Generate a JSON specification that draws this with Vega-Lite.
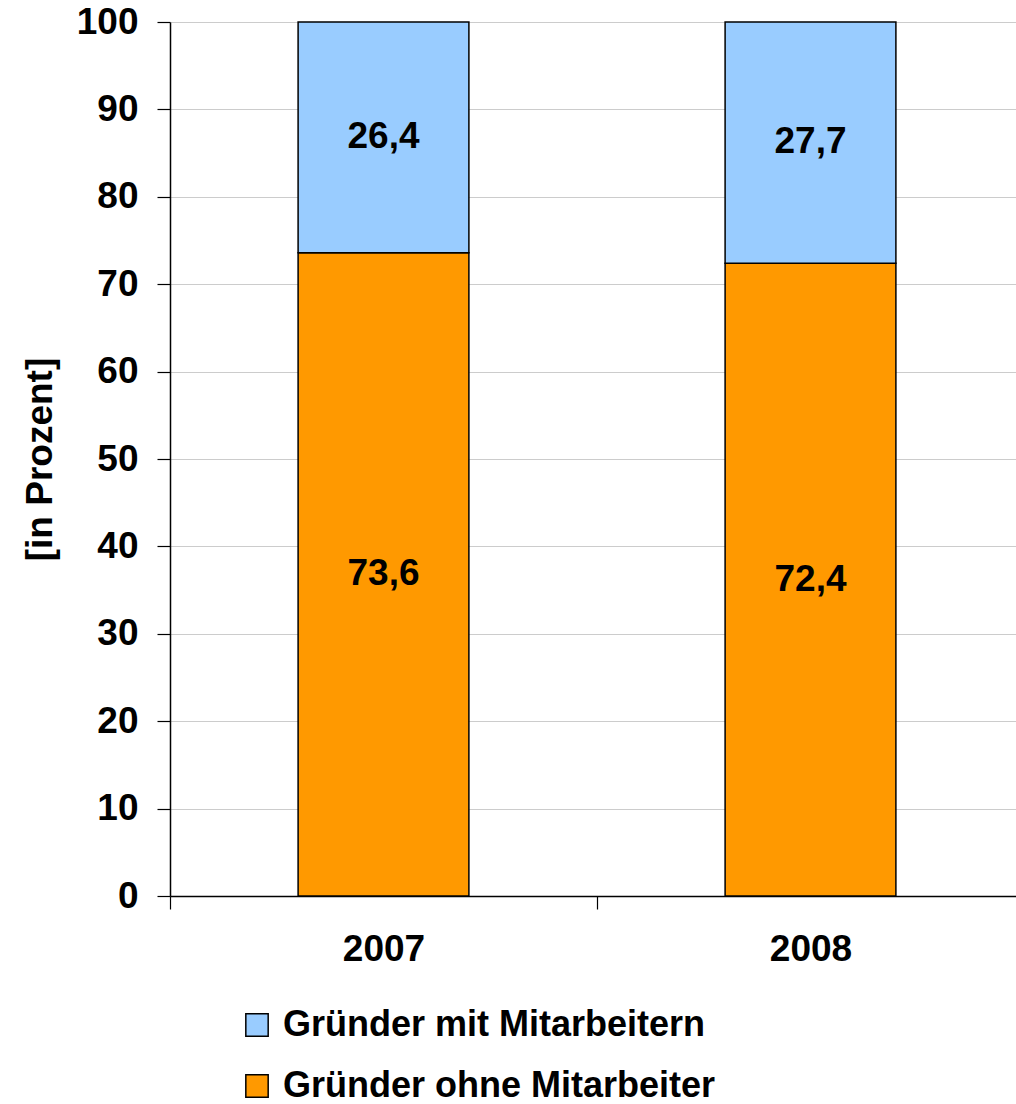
{
  "$schema": "https://vega.github.io/schema/vega-lite/v6.json",
  "autosize": {"type": "none"},
  "padding": {"left": 170, "top": 22, "right": 0, "bottom": 208},
  "width": 854,
  "height": 874,
  "background": "white",
  "config": {
    "font": "Liberation Sans",
    "view": {"stroke": null},
    "locale": {"number": {"decimal": ",", "thousands": ".", "grouping": [3], "currency": ["", " €"]}}
  },
  "data": {
    "values": [
      {"year": "2007", "group": "Gründer ohne Mitarbeiter", "value": 73.6, "ord": 1},
      {"year": "2007", "group": "Gründer mit Mitarbeitern", "value": 26.4, "ord": 2},
      {"year": "2008", "group": "Gründer ohne Mitarbeiter", "value": 72.4, "ord": 1},
      {"year": "2008", "group": "Gründer mit Mitarbeitern", "value": 27.7, "ord": 2}
    ]
  },
  "encoding": {
    "x": {
      "field": "year",
      "type": "nominal",
      "scale": {"paddingInner": 0, "paddingOuter": 0},
      "axis": {
        "title": null,
        "labelAngle": 0,
        "labelFont": "Liberation Sans",
        "labelFontSize": 37,
        "labelFontWeight": "bold",
        "labelColor": "black",
        "labelPadding": 22,
        "tickBand": "extent",
        "tickSize": 13,
        "tickColor": "black",
        "domainColor": "black",
        "domainWidth": 1.5,
        "tickWidth": 1.2,
        "grid": false
      }
    },
    "y": {
      "field": "value",
      "type": "quantitative",
      "stack": "zero",
      "scale": {"domain": [0, 100], "nice": false, "clamp": true},
      "axis": {
        "title": "[in Prozent]",
        "titleFont": "Liberation Sans",
        "titleFontSize": 37,
        "titleFontWeight": "bold",
        "titleColor": "black",
        "titleX": -130,
        "titleY": 437,
        "titleAngle": -90,
        "titleAlign": "center",
        "titleBaseline": "middle",
        "values": [0, 10, 20, 30, 40, 50, 60, 70, 80, 90, 100],
        "labelFont": "Liberation Sans",
        "labelFontSize": 37,
        "labelFontWeight": "bold",
        "labelColor": "black",
        "labelPadding": 19,
        "tickSize": 13,
        "tickColor": "black",
        "tickWidth": 1.2,
        "domainColor": "black",
        "domainWidth": 1.5,
        "grid": true,
        "gridColor": "#cccccc",
        "gridWidth": 1.2
      }
    },
    "order": {"field": "ord", "type": "quantitative"}
  },
  "layer": [
    {
      "mark": {"type": "bar", "stroke": "black", "strokeWidth": 1.5, "width": {"band": 0.4}},
      "encoding": {
        "color": {
          "field": "group",
          "type": "nominal",
          "scale": {
            "domain": ["Gründer mit Mitarbeitern", "Gründer ohne Mitarbeiter"],
            "range": ["#99CCFF", "#FF9900"]
          },
          "legend": {
            "title": null,
            "orient": "none",
            "legendX": 69,
            "legendY": 985,
            "direction": "vertical",
            "symbolType": "square",
            "symbolSize": 500,
            "symbolStrokeColor": "black",
            "symbolStrokeWidth": 1.5,
            "symbolOpacity": 1,
            "labelFont": "Liberation Sans",
            "labelFontSize": 36,
            "labelFontWeight": "bold",
            "labelColor": "black",
            "labelLimit": 800,
            "labelOffset": 8,
            "rowPadding": 25
          }
        }
      }
    },
    {
      "mark": {
        "type": "text",
        "font": "Liberation Sans",
        "fontSize": 37,
        "fontWeight": "bold",
        "color": "black",
        "baseline": "middle"
      },
      "encoding": {
        "y": {"field": "value", "type": "quantitative", "stack": "zero", "bandPosition": 0.5},
        "text": {"field": "value", "type": "quantitative", "format": ".1f"}
      }
    }
  ]
}
